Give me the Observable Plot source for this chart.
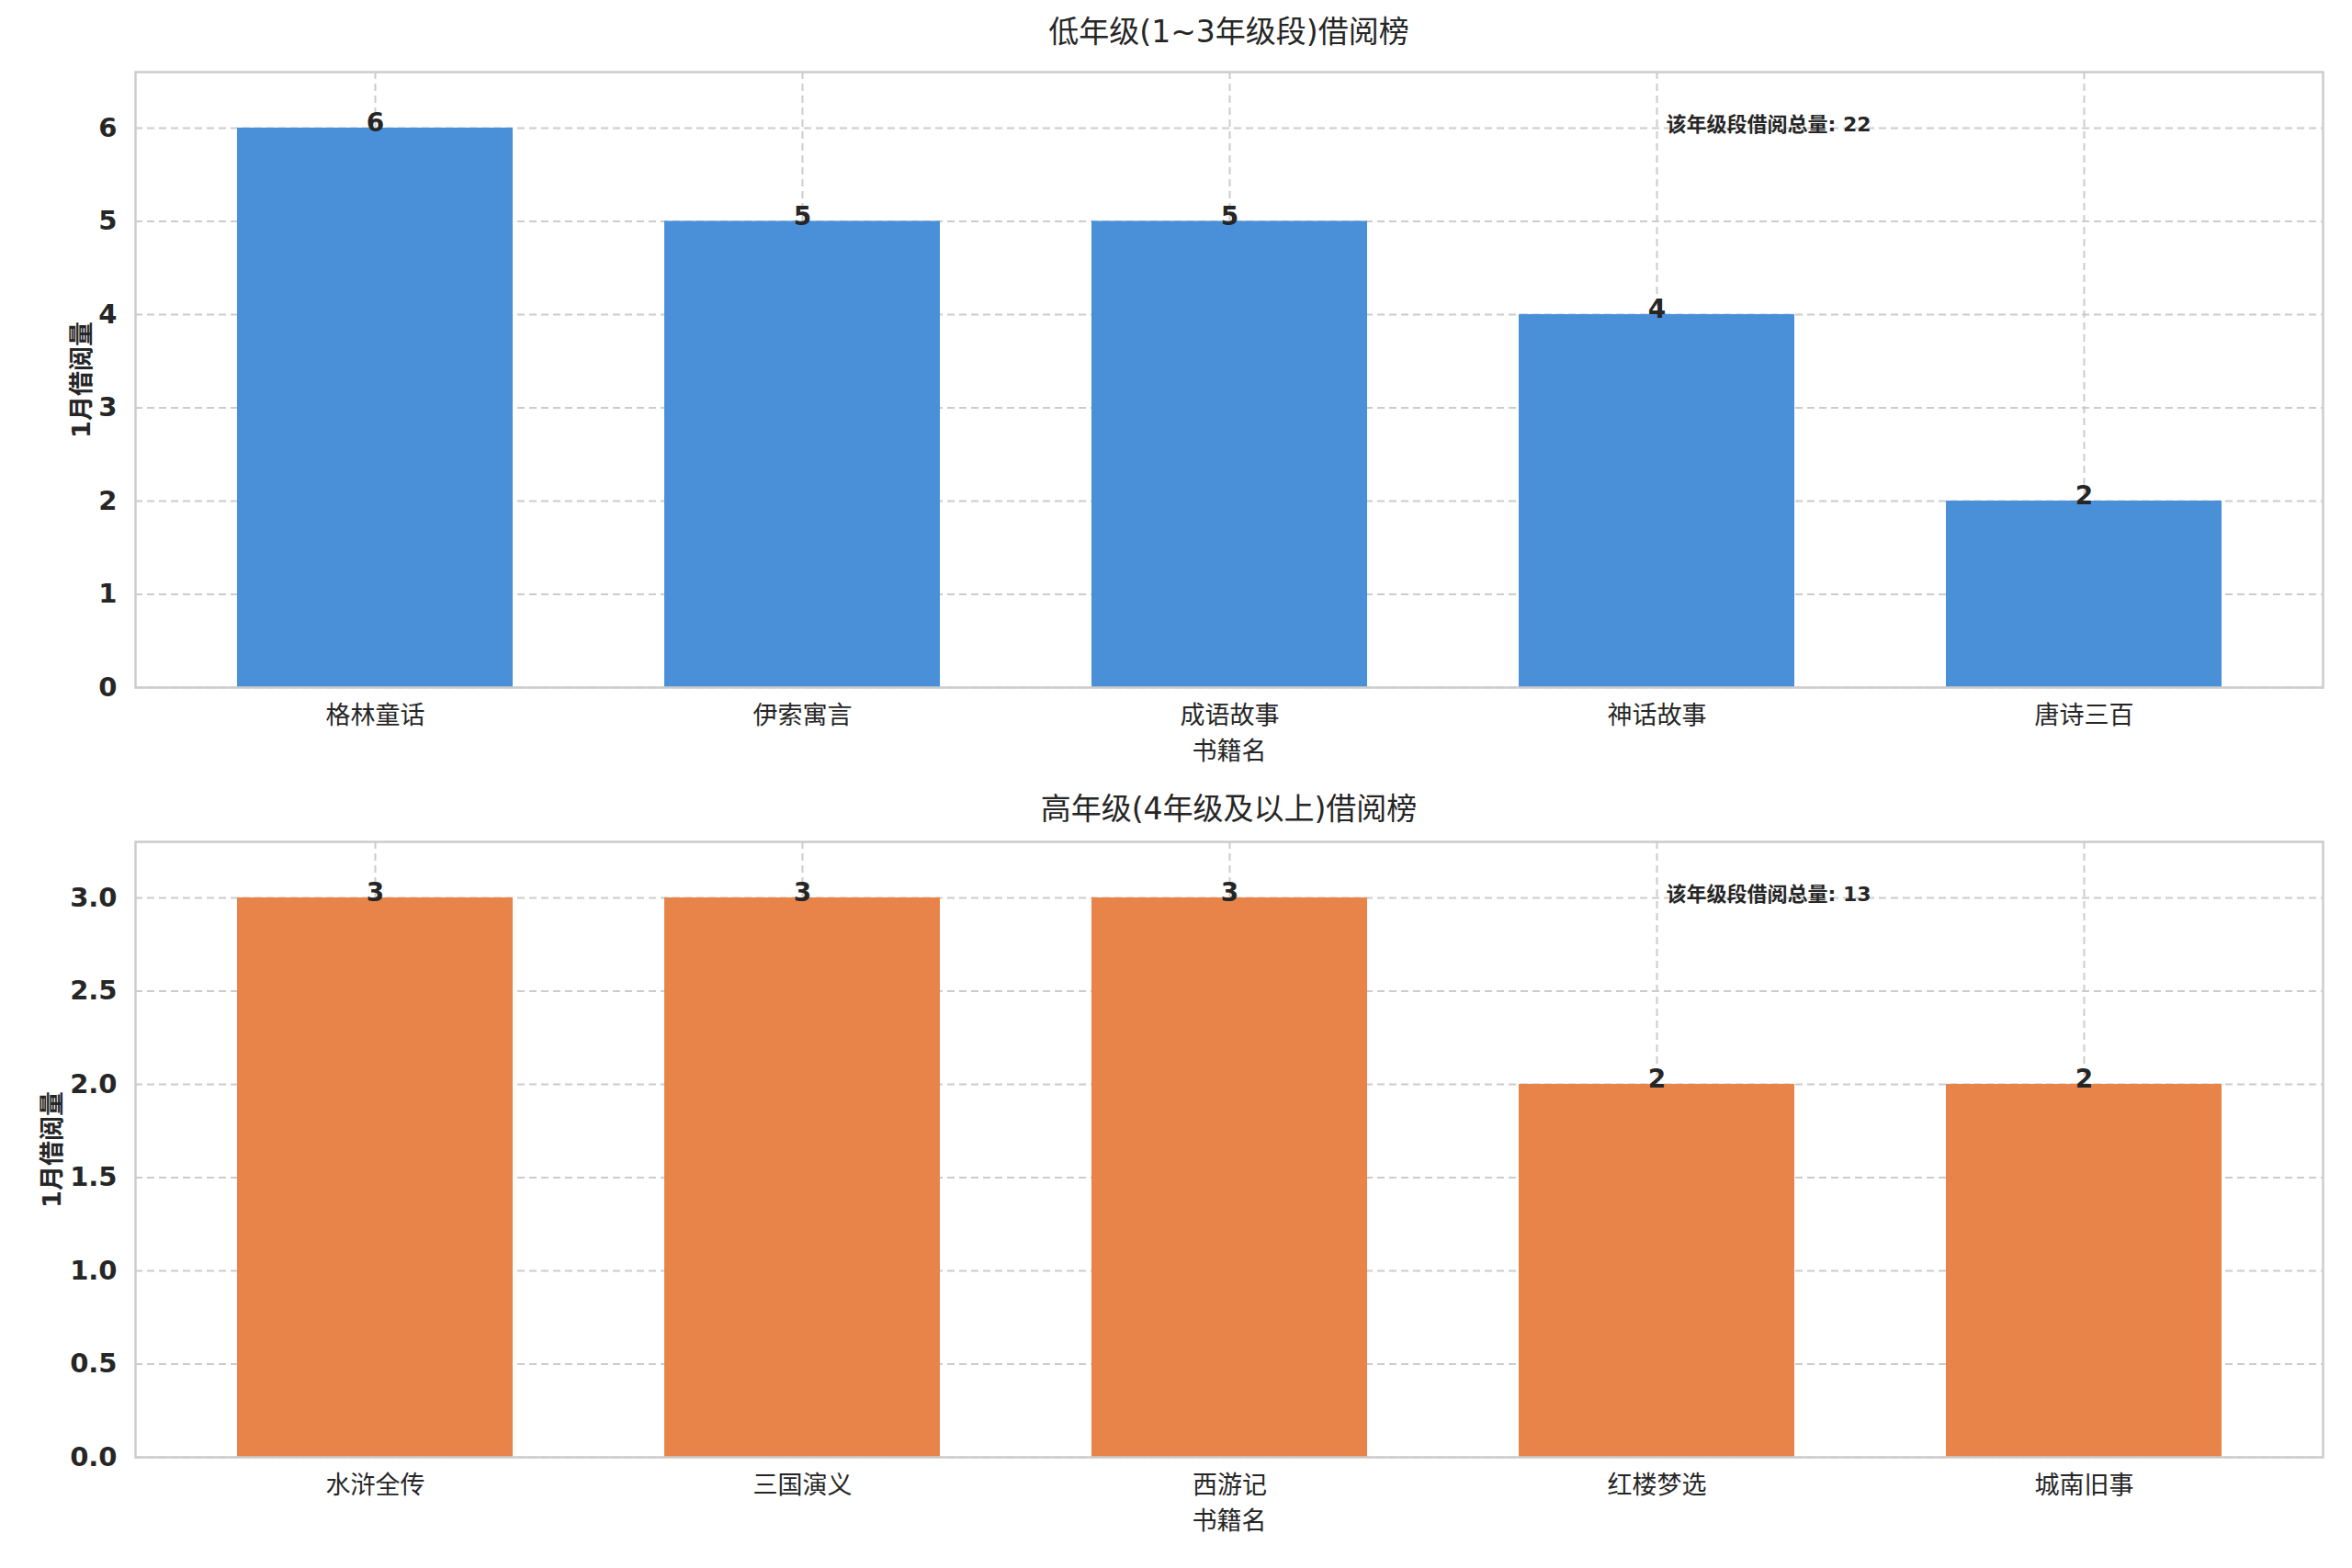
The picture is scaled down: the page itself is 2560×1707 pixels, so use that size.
<!DOCTYPE html>
<html><head><meta charset="utf-8">
<script src="https://cdn.jsdelivr.net/npm/d3@7"></script>
<script src="https://cdn.jsdelivr.net/npm/@observablehq/plot@0.6"></script>
<style>
body{margin:0;background:#fff;font-family:"DejaVu Sans","Noto Sans CJK SC",sans-serif;color:#262626}
.t{text-align:center;font-size:33px;padding-left:115px}
svg{display:block}
</style></head><body>
<div id="root"></div>
<script>
const lowTitle = "低年级(1~3年级段)借阅榜";
const highTitle = "高年级(4年级及以上)借阅榜";
const yLabel = "1月借阅量";
const xLabel = "书籍名";
const totalLabel = "该年级段借阅总量";
const lowBooks = ["格林童话","伊索寓言","成语故事","神话故事","唐诗三百"];
const lowCounts = [6,5,5,4,2];
const lowTotal = 22;
const highBooks = ["水浒全传","三国演义","西游记","红楼梦选","城南旧事"];
const highCounts = [3,3,3,2,2];
const highTotal = 13;
const lowTicks = [0,1,2,3,4,5,6];
const highTicks = [0,0.5,1,1.5,2,2.5,3];

function section(title, books, counts, total, ticks, ymax, color, fmt, lblOff, titleH){
  const data = books.map((b,i)=>({b, v:counts[i]}));
  const t = document.createElement("div");
  t.className="t"; t.style.height=titleH+"px"; t.style.lineHeight=titleH+"px";
  t.textContent=title;
  document.getElementById("root").append(t);
  const p = Plot.plot({
    width:2560, height:783, marginTop:8, marginBottom:105, marginLeft:147, marginRight:32,
    style:{fontFamily:'"DejaVu Sans","Noto Sans CJK SC",sans-serif', color:"#262626", background:"#fff"},
    x:{domain:books, paddingInner:0.355, paddingOuter:0.233},
    y:{domain:[0,ymax]},
    marks:[
      Plot.gridY(ticks,{stroke:"#cccccc", strokeOpacity:1, strokeWidth:2, strokeDasharray:"8,5"}),
      Plot.gridX(books,{stroke:"#cccccc", strokeOpacity:1, strokeWidth:2, strokeDasharray:"8,5"}),
      Plot.barY(data,{x:"b", y:"v", fill:color}),
      Plot.text(data,{x:"b", y:"v", text:d=>String(d.v), lineAnchor:"bottom", dy:4, fontSize:28, fontWeight:"bold", fill:"#262626"}),
      Plot.text([{x:books[3], y:ticks[ticks.length-1]}],{x:"x", y:"y", text:()=>`${totalLabel}: ${total}`, textAnchor:"start", dx:10, dy:-3, fontSize:22, fontWeight:"bold", fill:"#262626"}),
      Plot.axisY(ticks,{tickSize:0, tickPadding:20, fontSize:29, fontWeight:"bold", tickFormat:fmt, label:yLabel, labelAnchor:"center", labelArrow:"none", labelOffset:lblOff}),
      Plot.axisX({tickSize:0, tickPadding:20, fontSize:27, label:xLabel, labelAnchor:"center", labelArrow:"none", labelOffset:78}),
      Plot.frame({stroke:"#cccccc", strokeWidth:2.5})
    ]
  });
  p.querySelectorAll("g[aria-label='y-axis label'] text, g[aria-label='x-axis label'] text").forEach(e=>{e.setAttribute("font-size","27");e.style.fontSize="27px";});
  p.querySelectorAll("g[aria-label='y-axis label'] text").forEach(e=>{e.setAttribute("font-weight","bold");});
  document.getElementById("root").append(p);
}
section(lowTitle, lowBooks, lowCounts, lowTotal, lowTicks, 6.6, "#4a90d9", d3.format("d"), 69, 70);
section(highTitle, highBooks, highCounts, highTotal, highTicks, 3.3, "#e8844a", d3.format(".1f"), 101, 55);
</script></body></html>
